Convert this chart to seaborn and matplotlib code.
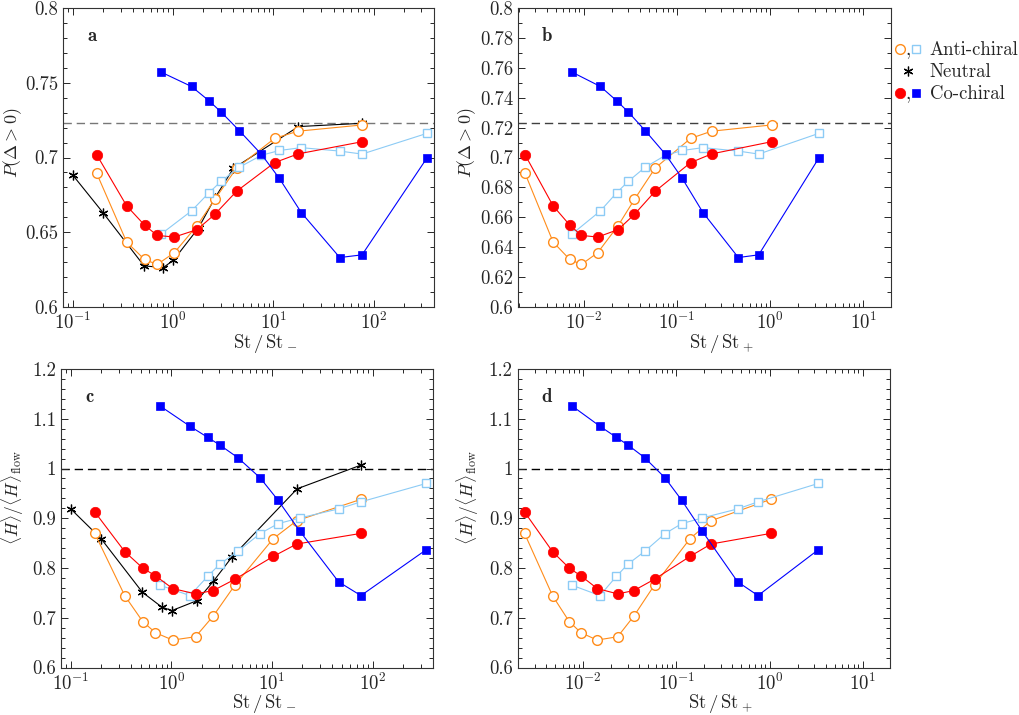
import numpy as np
import matplotlib
matplotlib.use("Agg")
import matplotlib.pyplot as plt
from matplotlib.ticker import MultipleLocator, LogLocator, FuncFormatter, NullFormatter
from matplotlib.lines import Line2D
from matplotlib.legend_handler import HandlerTuple
import seaborn as sns

sns.set_style('ticks')
plt.rcParams['font.family'] = 'serif'
plt.rcParams['font.serif'] = ['cmr10']
plt.rcParams['mathtext.fontset'] = 'cm'
plt.rcParams['axes.formatter.use_mathtext'] = True
plt.rcParams['font.size'] = 13.5
plt.rcParams['axes.linewidth'] = 0.8

# x positions: circles (anti/co-chiral), squares (anti/co-chiral), stars (neutral)
circ_st_minus = [0.173, 0.345, 0.52, 0.695, 1.03, 1.74, 2.61, 4.3, 10.3, 17.6, 77.3]
circ_st_plus = [0.00234, 0.00469, 0.00708, 0.00944, 0.0141, 0.0234, 0.035, 0.0583, 0.14, 0.235, 1.04]
sq_st_minus = [0.768, 1.53, 2.29, 3.03, 4.58, 7.62, 11.5, 19.0, 46.0, 76.7, 342]
sq_st_plus = [0.00755, 0.0151, 0.0226, 0.0302, 0.0456, 0.0754, 0.114, 0.19, 0.455, 0.752, 3.34]
star_st_minus = [0.1, 0.2, 0.515, 0.8, 1.01, 1.8, 2.62, 4.0, 17.8, 77]

# P(Delta > 0)
anti_circ_P = [0.6896, 0.6435, 0.6318, 0.6285, 0.6363, 0.6545, 0.672, 0.6929, 0.7128, 0.7176, 0.7218]
co_circ_P = [0.702, 0.6677, 0.6548, 0.6479, 0.6468, 0.6518, 0.662, 0.6774, 0.6966, 0.7024, 0.7106]
anti_sq_P = [0.649, 0.6643, 0.6765, 0.6842, 0.6935, 0.7015, 0.7047, 0.7066, 0.7043, 0.7023, 0.7162]
co_sq_P = [0.757, 0.7475, 0.7379, 0.7303, 0.718, 0.7021, 0.686, 0.6632, 0.6331, 0.6349, 0.6999]
neutral_P = [0.6883, 0.6632, 0.6275, 0.6264, 0.6313, 0.653, 0.673, 0.6927, 0.7207, 0.7229]
flow_P = 0.7233

# <H>/<H>_flow
anti_circ_H = [0.8697, 0.744, 0.6922, 0.670, 0.6552, 0.6619, 0.7036, 0.7662, 0.859, 0.895, 0.9383]
co_circ_H = [0.9128, 0.8327, 0.7998, 0.7843, 0.7588, 0.748, 0.7547, 0.7776, 0.8233, 0.8482, 0.8697]
anti_sq_H = [0.7655, 0.7446, 0.783, 0.8079, 0.8334, 0.8691, 0.8892, 0.9007, 0.9188, 0.933, 0.970]
co_sq_H = [1.126, 1.085, 1.0628, 1.0473, 1.0218, 0.9814, 0.9363, 0.8738, 0.7722, 0.7446, 0.8368]
neutral_H = [0.9188, 0.859, 0.7513, 0.7218, 0.7144, 0.7345, 0.7735, 0.822, 0.9592, 1.007]
flow_H = 1.0

ORANGE = '#ff8c1a'
LBLUE = '#8ccbf5'
RED = '#ff0000'
BLUE = '#0000ff'

sty = {
    'neutral': dict(color='k', marker=(6, 2, 0), markersize=7, markeredgecolor='k', markeredgewidth=0.9, lw=0.8),
    'anti_c': dict(color=ORANGE, marker='o', markersize=7, markerfacecolor='white', markeredgecolor=ORANGE, markeredgewidth=1.0, lw=0.8),
    'anti_s': dict(color=LBLUE, marker='s', markersize=5.3, markerfacecolor='white', markeredgecolor=LBLUE, markeredgewidth=1.0, lw=0.8),
    'co_c': dict(color=RED, marker='o', markersize=7.5, markerfacecolor=RED, markeredgecolor=RED, markeredgewidth=0.5, lw=0.8),
    'co_s': dict(color=BLUE, marker='s', markersize=6, markerfacecolor=BLUE, markeredgecolor=BLUE, markeredgewidth=0.5, lw=0.8),
}


def draw(ax, x, y, key):
    sns.lineplot(x=x, y=y, ax=ax, legend=False, **sty[key])


def fmt(v, pos):
    return '%g' % v


fig = plt.figure(figsize=(10.19, 7.15), dpi=100)
ax_a = fig.add_axes([0.0618, 0.5706, 0.3641, 0.4182])
ax_b = fig.add_axes([0.5083, 0.5706, 0.3660, 0.4182])
ax_c = fig.add_axes([0.0599, 0.0664, 0.3651, 0.4175])
ax_d = fig.add_axes([0.5079, 0.0664, 0.3656, 0.4175])

for ax in [ax_a, ax_b, ax_c, ax_d]:
    ax.set_xscale('log')

# panel a
draw(ax_a, star_st_minus, neutral_P, 'neutral')
draw(ax_a, circ_st_minus, anti_circ_P, 'anti_c')
draw(ax_a, sq_st_minus, anti_sq_P, 'anti_s')
draw(ax_a, circ_st_minus, co_circ_P, 'co_c')
draw(ax_a, sq_st_minus, co_sq_P, 'co_s')
ax_a.axhline(flow_P, color='#777777', lw=1.0, ls=(0, (6, 3.5)), zorder=0)

# panel b
draw(ax_b, circ_st_plus, anti_circ_P, 'anti_c')
draw(ax_b, sq_st_plus, anti_sq_P, 'anti_s')
draw(ax_b, circ_st_plus, co_circ_P, 'co_c')
draw(ax_b, sq_st_plus, co_sq_P, 'co_s')
ax_b.axhline(flow_P, color='#404040', lw=1.0, ls=(0, (6, 3.5)), zorder=0)

# panel c
draw(ax_c, star_st_minus, neutral_H, 'neutral')
draw(ax_c, circ_st_minus, anti_circ_H, 'anti_c')
draw(ax_c, sq_st_minus, anti_sq_H, 'anti_s')
draw(ax_c, circ_st_minus, co_circ_H, 'co_c')
draw(ax_c, sq_st_minus, co_sq_H, 'co_s')
ax_c.axhline(flow_H, color='k', lw=1.0, ls=(0, (6, 3.5)), zorder=0)

# panel d
draw(ax_d, circ_st_plus, anti_circ_H, 'anti_c')
draw(ax_d, sq_st_plus, anti_sq_H, 'anti_s')
draw(ax_d, circ_st_plus, co_circ_H, 'co_c')
draw(ax_d, sq_st_plus, co_sq_H, 'co_s')
ax_d.axhline(flow_H, color='k', lw=1.0, ls=(0, (6, 3.5)), zorder=0)

ax_a.set_xlim(0.08, 400)
ax_c.set_xlim(0.08, 400)
ax_b.set_xlim(0.00197, 19.7)
ax_d.set_xlim(0.00197, 19.7)

ax_a.set_ylim(0.6, 0.8)
ax_a.yaxis.set_major_locator(MultipleLocator(0.05))
ax_a.yaxis.set_minor_locator(MultipleLocator(0.01))
ax_b.set_ylim(0.6, 0.8)
ax_b.yaxis.set_major_locator(MultipleLocator(0.02))
ax_b.yaxis.set_minor_locator(MultipleLocator(0.01))
for ax in [ax_c, ax_d]:
    ax.set_ylim(0.6, 1.2)
    ax.yaxis.set_major_locator(MultipleLocator(0.1))
    ax.yaxis.set_minor_locator(MultipleLocator(0.02))

for ax in [ax_a, ax_b, ax_c, ax_d]:
    ax.yaxis.set_major_formatter(FuncFormatter(fmt))
    ax.xaxis.set_major_locator(LogLocator(base=10, numticks=12))
    ax.xaxis.set_minor_locator(LogLocator(base=10, subs=np.arange(2, 10), numticks=12))
    ax.xaxis.set_minor_formatter(NullFormatter())
    ax.tick_params(which='both', direction='in', top=True, right=True, width=0.7)
    ax.tick_params(which='major', length=5)
    ax.tick_params(which='minor', length=3)
    for sp in ax.spines.values():
        sp.set_color('#333333')

ax_a.set_ylabel(r'$P(\Delta > 0)$', fontsize=13)
ax_b.set_ylabel(r'$P(\Delta > 0)$', fontsize=13)
ax_c.set_ylabel(r'$\langle H\rangle/\langle H\rangle_{\mathrm{flow}}$', fontsize=12.5)
ax_d.set_ylabel(r'$\langle H\rangle/\langle H\rangle_{\mathrm{flow}}$', fontsize=12.5)
ax_a.set_xlabel(r'$\mathrm{St}\,/\,\mathrm{St}_-$')
ax_c.set_xlabel(r'$\mathrm{St}\,/\,\mathrm{St}_-$')
ax_b.set_xlabel(r'$\mathrm{St}\,/\,\mathrm{St}_+$')
ax_d.set_xlabel(r'$\mathrm{St}\,/\,\mathrm{St}_+$')

ax_a.yaxis.set_label_coords(-0.106, 0.55)
ax_b.yaxis.set_label_coords(-0.106, 0.55)
ax_c.yaxis.set_label_coords(-0.095, 0.57)
ax_d.yaxis.set_label_coords(-0.097, 0.57)
for ax in [ax_a, ax_b, ax_c, ax_d]:
    ax.xaxis.set_label_coords(0.545, -0.083)

for ax, lab in zip([ax_a, ax_b, ax_c, ax_d], ['a', 'b', 'c', 'd']):
    ax.text(0.065, 0.905, lab, transform=ax.transAxes, fontfamily='cmb10',
            fontsize=13.5, ha='left', va='center')


# legend: "circle , square  label"
def leg_handle(key, color):
    kw = {k: v for k, v in sty[key].items() if k not in ('lw', 'color')}
    return Line2D([], [], ls='none', color=color, **kw)


FS = 13.5
HL = 1.36     # handle length (font units)
HTP = 0.48    # handle-text pad (font units)
h_anti = (leg_handle('anti_c', ORANGE), leg_handle('anti_s', LBLUE))
h_neu = leg_handle('neutral', 'k')
h_co = (leg_handle('co_c', RED), leg_handle('co_s', BLUE))
leg = fig.legend([h_anti, h_neu, h_co], ['Anti-chiral', 'Neutral', 'Co-chiral'],
                 loc='upper left', bbox_to_anchor=(0.8785, 0.942), frameon=False,
                 handler_map={tuple: HandlerTuple(ndivide=None, pad=0.4)},
                 handlelength=HL, handletextpad=HTP, labelspacing=0.22, fontsize=FS,
                 borderaxespad=0.0, borderpad=0.0)

# commas between the two symbols, on the text baseline of the row
fig.canvas.draw()
px = FS * fig.dpi / 72.0
for i in (0, 2):
    t = leg.get_texts()[i]
    tx, ty = t.get_transform().transform(t.get_position())
    cx = tx - HTP * px - 0.5 * HL * px
    fx, fy = fig.transFigure.inverted().transform((cx, ty))
    fig.text(fx, fy, ',', fontsize=FS, ha='center', va='baseline')

fig.savefig('out.png', dpi=100)
